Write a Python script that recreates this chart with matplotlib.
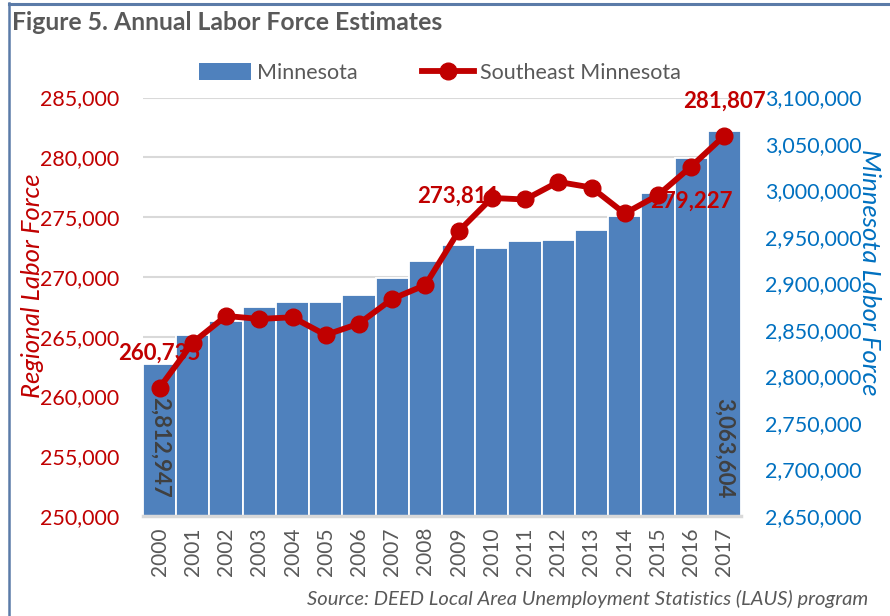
import matplotlib
matplotlib.use("Agg")
import matplotlib.pyplot as plt
from matplotlib.patches import Patch
from matplotlib.lines import Line2D
from matplotlib.ticker import FuncFormatter

plt.rcParams['font.family'] = ['Lato', 'DejaVu Sans']

years = [str(y) for y in range(2000, 2018)]
minnesota = [2812947, 2845100, 2859400, 2874500, 2880200, 2879800, 2887700, 2906000,
             2924700, 2941100, 2938200, 2946200, 2946500, 2958000, 2972300, 2997400,
             3035000, 3063604]
southeast = [260735, 264506, 266730, 266480, 266620, 265140, 266090, 268150,
             269320, 273811, 276600, 276470, 277940, 277470, 275300, 276830,
             279227, 281807]
left_lim = (250000, 285000)
left_ticks = list(range(250000, 285001, 5000))
right_lim = (2650000, 3100000)
right_ticks = list(range(2650000, 3100001, 50000))
line_label_idx = {0: 'above', 9: 'above', 16: 'below', 17: 'above'}
bar_label_idx = [0, 17]

RED = '#C00000'
BLUE = '#0070C0'
BAR = '#4F81BD'
GRAY = '#595959'
GRID = '#D9D9D9'

W, H = 890, 616
fig = plt.figure(figsize=(W / 100, H / 100), dpi=100)

# outer frame (top and left visible)
fig.add_artist(Line2D([9 / W, 9 / W], [0, 1 - 3 / H], color='#5B7BA8', lw=1.8, transform=fig.transFigure))
fig.add_artist(Line2D([9 / W, 1], [1 - 3.5 / H, 1 - 3.5 / H], color='#5B7BA8', lw=2.2, transform=fig.transFigure))

x0, x1, ytop, ybot = 143, 741, 97.5, 516
ax = fig.add_axes([x0 / W, 1 - ybot / H, (x1 - x0) / W, (ybot - ytop) / H])
xs = list(range(len(years)))
ax.bar(xs, minnesota, width=1.0, color=BAR, edgecolor='white', linewidth=1.3, zorder=2)
ax.set_xlim(-0.5, len(years) - 0.5)
ax.set_ylim(*right_lim)
ax.set_xticks(xs)
ax.set_xticklabels(years, rotation=90, color=GRAY, fontsize=15)
ax.tick_params(axis='x', length=0, pad=8)
for s in ['top', 'left', 'right']:
    ax.spines[s].set_visible(False)
ax.spines['bottom'].set_color(GRID)
ax.spines['bottom'].set_linewidth(2.5)
ax.spines['bottom'].set_zorder(3)

# gridlines at left-axis ticks (converted to right scale)
for t in left_ticks[1:]:
    frac = (t - left_lim[0]) / (left_lim[1] - left_lim[0])
    ax.axhline(right_lim[0] + frac * (right_lim[1] - right_lim[0]), color=GRID, lw=1.5, zorder=1)

# bar labels
for i in bar_label_idx:
    ax.annotate(f"{minnesota[i]:,}", xy=(xs[i], right_lim[0]), xytext=(0, 13),
                textcoords='offset points', rotation=-90, ha='center', va='bottom',
                color='#404040', fontsize=16, fontweight='bold', zorder=5)

axl = ax.twinx()
axl.set_zorder(ax.get_zorder() + 1)
axl.patch.set_visible(False)
axl.plot(xs, southeast, color=RED, lw=4.2, marker='o', markersize=12, zorder=4, clip_on=False)
axl.set_ylim(*left_lim)
axl.yaxis.tick_left()
axl.set_yticks(left_ticks)
axl.yaxis.set_major_formatter(FuncFormatter(lambda v, p: f"{int(v):,}"))
axl.tick_params(axis='y', colors=RED, labelsize=15.5, length=0, pad=17)
for s in axl.spines.values():
    s.set_visible(False)

# right axis for bars (after twinx, which resets ticks)
ax.yaxis.tick_right()
ax.set_yticks(right_ticks)
ax.yaxis.set_major_formatter(FuncFormatter(lambda v, p: f"{int(v):,}"))
ax.tick_params(axis='y', which='both', left=False, labelleft=False, right=False, labelright=True,
               colors=BLUE, labelsize=15.5, length=0, pad=17)

for i, pos in line_label_idx.items():
    off = 25 if pos == 'above' else -25
    axl.annotate(f"{southeast[i]:,}", xy=(xs[i], southeast[i]), xytext=(0, off),
                 textcoords='offset points', ha='center', va='center',
                 color=RED, fontsize=16, fontweight='bold', zorder=6)

fig.text(33 / W, 1 - 286 / H, 'Regional Labor Force', rotation=90, ha='center', va='center',
         color=RED, fontsize=18.5, style='italic')
fig.text(869 / W, 1 - 272 / H, 'Minnesota Labor Force', rotation=-90, ha='center', va='center',
         color=BLUE, fontsize=18.5, style='italic')

fig.text(12 / W, 1 - 23 / H, 'Figure 5. Annual Labor Force Estimates', ha='left', va='center',
         color=GRAY, fontsize=17.8, fontweight='bold')

handles = [Patch(facecolor=BAR, edgecolor='none'),
           Line2D([], [], color=RED, lw=4.2, marker='o', markersize=12)]
fig.legend(handles, ['Minnesota', 'Southeast Minnesota'], loc='center',
           bbox_to_anchor=(440 / W, 1 - 73 / H), ncol=2, frameon=False, fontsize=15.5,
           labelcolor=GRAY, handlelength=2.4, handleheight=0.8, columnspacing=3.0,
           handletextpad=0.3)

fig.text(868 / W, 1 - 599 / H, 'Source: DEED Local Area Unemployment Statistics (LAUS) program',
         ha='right', va='center', color=GRAY, fontsize=14.5, style='italic')

fig.savefig('out.png', dpi=100)
